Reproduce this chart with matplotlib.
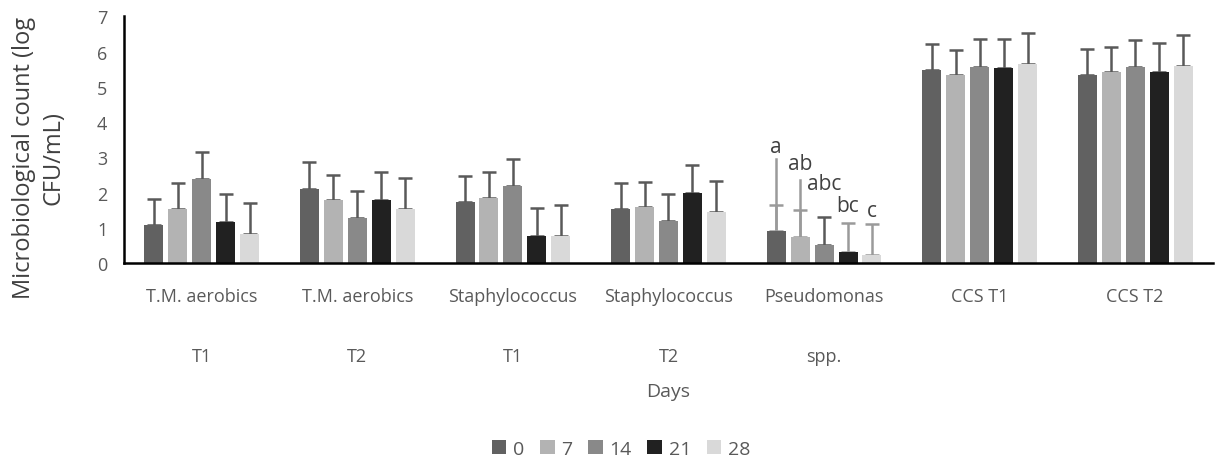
import matplotlib.pyplot as plt
import numpy as np

categories = ["T.M. aerobics\n\nT1", "T.M. aerobics\n\nT2", "Staphylococcus\n\nT1",
              "Staphylococcus\n\nT2", "Pseudomonas\n\nspp.", "CCS T1", "CCS T2"]
days = ["0", "7", "14", "21", "28"]

# mean values per day, one list per category
means = {
    "0":  [1.08, 2.10, 1.73, 1.53, 0.91, 5.48, 5.34],
    "7":  [1.53, 1.79, 1.85, 1.59, 0.74, 5.34, 5.43],
    "14": [2.39, 1.28, 2.19, 1.19, 0.51, 5.57, 5.57],
    "21": [1.16, 1.79, 0.77, 1.99, 0.31, 5.54, 5.43],
    "28": [0.82, 1.53, 0.77, 1.45, 0.23, 5.65, 5.60],
}
# top of the error bar
upper = {
    "0":  [1.82, 2.86, 2.47, 2.27, 1.65, 6.23, 6.07],
    "7":  [2.27, 2.51, 2.58, 2.31, 1.50, 6.06, 6.14],
    "14": [3.15, 2.05, 2.95, 1.97, 1.30, 6.36, 6.34],
    "21": [1.96, 2.59, 1.57, 2.78, 1.15, 6.35, 6.25],
    "28": [1.70, 2.40, 1.65, 2.33, 1.10, 6.52, 6.48],
}
colors = ["#616161", "#b3b3b3", "#898989", "#212121", "#d9d9d9"]

# Pseudomonas significance letters
pseudo_idx = 4
letters = ["a", "ab", "abc", "bc", "c"]
letter_y = [3.15, 2.67, 2.10, 1.48, 1.34]
pseudo_ext = [2.95, 2.36, None, None, None]  # longer light-gray whiskers
pseudo_err_color = ["#9a9a9a", "#9a9a9a", "#595959", "#9a9a9a", "#9a9a9a"]

txt = "#595959"
plt.rcParams["font.family"] = ["Open Sans", "DejaVu Sans"]

fig = plt.figure(figsize=(12.16, 4.64), dpi=100)
ax = fig.add_axes([0.102, 0.431, 0.8955, 0.5313])

x = np.arange(len(categories))
step = 0.154
width = 0.122
for i, d in enumerate(days):
    xs = x + (i - 2) * step
    m = np.array(means[d])
    u = np.array(upper[d])
    ax.bar(xs, m, width=width, color=colors[i], label=d, zorder=2)
    for j in range(len(categories)):
        c = pseudo_err_color[i] if j == pseudo_idx else "#595959"
        # whisker sits behind the bar so only the upper half shows
        ax.errorbar(xs[j], m[j], yerr=[[0], [u[j] - m[j]]], fmt="none",
                    ecolor=c, elinewidth=1.8, capsize=4.8, capthick=1.8,
                    zorder=1)
    px = xs[pseudo_idx]
    if pseudo_ext[i] is not None:
        ax.plot([px, px], [m[pseudo_idx], pseudo_ext[i]], color="#9a9a9a",
                lw=1.8, zorder=1)
    ax.text(px, letter_y[i], letters[i], ha="center", va="baseline",
            fontsize=15, color="#404040")

ax.set_xlim(-0.5, len(categories) - 0.5)
ax.set_ylim(0, 7)
ax.set_yticks(range(8))
ax.set_xticks(x)
ax.set_xticklabels(categories, linespacing=1.88)
ax.tick_params(axis="both", length=0, colors=txt, labelsize=13)
ax.tick_params(axis="y", pad=12)
ax.tick_params(axis="x", pad=17)
for s in ["top", "right"]:
    ax.spines[s].set_visible(False)
for s in ["left", "bottom"]:
    ax.spines[s].set_color("black")
    ax.spines[s].set_linewidth(1.8)
ax.spines["bottom"].set_zorder(4)

fig.text(0.032, 1 - 158 / 464, "Microbiological count (log\nCFU/mL)", rotation=90,
         ha="center", va="center", multialignment="center", fontsize=17,
         color="#404040", linespacing=1.3)
fig.text(668 / 1216, 1 - 392 / 464, "Days", ha="center", va="center",
         fontsize=14, color=txt)

fig.legend(loc="center", bbox_to_anchor=(621 / 1216, 1 - 450 / 464), ncol=5,
           frameon=False, fontsize=14, labelcolor=txt, handlelength=0.75,
           handleheight=0.75, handletextpad=0.35, columnspacing=0.8,
           borderaxespad=0)

fig.savefig("out.png", dpi=100)
